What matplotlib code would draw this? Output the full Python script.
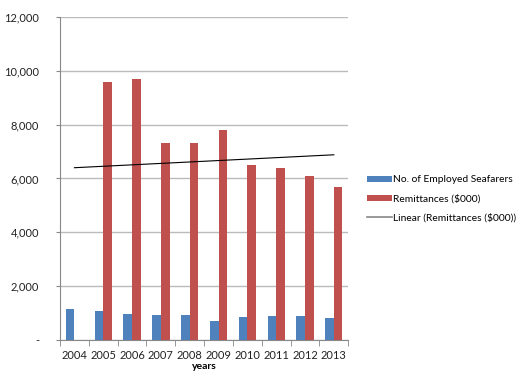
import matplotlib.pyplot as plt
import numpy as np
from matplotlib.ticker import FuncFormatter
from matplotlib.lines import Line2D

# Data
years = ['2004', '2005', '2006', '2007', '2008', '2009', '2010', '2011', '2012', '2013']
seafarers = [1150, 1090, 980, 940, 940, 720, 870, 900, 880, 830]
remittances = [0, 9600, 9700, 7300, 7300, 7800, 6500, 6400, 6100, 5700]
trend_ends = [6400, 6880]  # Linear (Remittances) at first and last year

plt.rcParams['font.family'] = ['Lato', 'DejaVu Sans']

fig = plt.figure(figsize=(5.25, 3.73), dpi=100)
ax = fig.add_axes([0.1143, 0.0885, 0.549, 0.866])

x = np.arange(len(years))
w = 0.3
b1 = ax.bar(x - w / 2, seafarers, width=w, color='#4F81BD', zorder=3)
b2 = ax.bar(x + w / 2, remittances, width=w, color='#C0504D', zorder=3)
ax.plot([x[0], x[-1]], trend_ends, color='black', linewidth=0.8, zorder=4)

ax.set_xlim(-0.5, len(years) - 0.5)
ax.set_ylim(0, 12000)
ax.set_yticks(range(0, 12001, 2000))
ax.yaxis.set_major_formatter(FuncFormatter(lambda v, p: '-' if v == 0 else f'{int(v):,}'))
ax.set_xticks(x)
ax.set_xticklabels(years)
ax.set_xticks(np.arange(-0.5, len(years), 1), minor=True)

ax.grid(axis='y', color='#BBBBBB', linewidth=1, zorder=0)
for s in ['top', 'right']:
    ax.spines[s].set_visible(False)
for s in ['left', 'bottom']:
    ax.spines[s].set_color('#888888')

ax.tick_params(axis='x', which='major', length=0, pad=7, labelsize=8, labelcolor='#222222')
ax.tick_params(axis='x', which='minor', length=4, color='#888888', direction='out')
ax.tick_params(axis='y', length=3, color='#888888', pad=12, labelsize=8, labelcolor='#222222')

ax.set_xlabel('years', fontsize=7.5, fontweight='bold', va='center')
ax.xaxis.set_label_coords(0.5, -0.083)

# legend handle for the trend line is drawn grey, as in the original
trend_handle = Line2D([], [], color='#888888', linewidth=1.2)
fig.legend([b1, b2, trend_handle],
           ['No. of Employed Seafarers', 'Remittances ($000)', 'Linear (Remittances ($000))'],
           loc='upper left', bbox_to_anchor=(0.699, 0.53), frameon=False, fontsize=7.4,
           handlelength=2.4, handleheight=0.55, labelspacing=0.95, handletextpad=0.15,
           borderpad=0, borderaxespad=0)

fig.savefig('out.png', dpi=100)
